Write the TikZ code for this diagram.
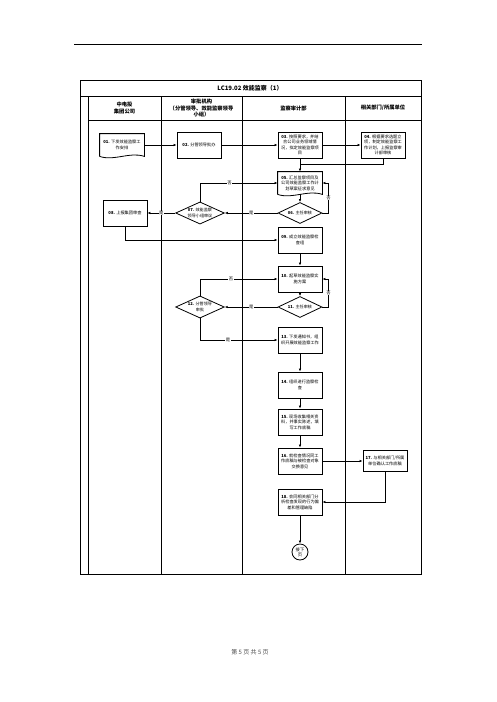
\documentclass[tikz,border=0pt]{standalone}
\usepackage{fontspec}
\setmainfont{Noto Sans CJK SC}
\XeTeXlinebreaklocale "zh"
\XeTeXlinebreakskip = 0pt plus 0.2pt
\usetikzlibrary{shapes.geometric,arrows.meta}

\begin{document}
\begin{tikzpicture}[x=1pt,y=-1pt,
  lane/.style={line width=0.8pt},
  stepbox/.style={draw,line width=0.8pt,minimum width=44,minimum height=26,text width=39,
    inner sep=1pt,align=flush center,font=\fontsize{4.2}{5.5}\selectfont},
  docbox/.style={stepbox,draw=none,minimum height=22},
  check/.style={diamond,draw,line width=0.8pt,aspect=2.2,text width=27,inner sep=0.3pt,
    minimum width=44,minimum height=21,align=flush center,font=\fontsize{4.1}{5.2}\selectfont},
  flow/.style={line width=0.8pt,-{Latex[length=3pt,width=2.5pt]}},
  tag/.style={fill=white,inner sep=0.5pt,font=\fontsize{4.3}{5}\selectfont},
  head/.style={align=center,font=\bfseries\fontsize{5.3}{6.3}\selectfont}]
  \useasboundingbox (0,0) rectangle (496,702);
  % Page rule
  \draw[line width=1pt] (74,44) -- (422,44);
  % Table and swim lanes
  \draw[lane] (80,80) rectangle (421,574);
  \draw[lane] (80,96) -- (421,96);
  \draw[lane] (88,120) -- (421,120);
  \foreach \x in {88,161,242,345} {
    \draw[lane] (\x,96) -- (\x,574);
  }
  \node[font=\bfseries\fontsize{6}{7}\selectfont] (title) at (250,88) {LC19.02 效能监察（1）};
  \foreach \x/\lab [count=\i] in {124.5/{中电投\\集团公司},
      201.5/{审批机构\\（分管领导、效能监察领导\\小组）},
      293.5/{监察审计部}, 383/{相关部门/所属单位}} {
    \node[head] (col\i) at (\x,108) {\lab};
  }
  % Steps
  \node[docbox] (n01) at (122,145) {\textbf{01.} 下发效能监察工作安排};
  \node[stepbox] (n02) at (199,145) {\textbf{02.} 分管领导批办};
  \node[stepbox] (n03) at (300,145) {\textbf{03.} 按照要求，并结合公司业务领域情况，拟定效能监察项目};
  \node[stepbox] (n04) at (383,145) {\textbf{04.} 根据要求选题立项，制定效能监察工作计划，上报监察审计部审核};
  \node[docbox] (n05) at (300,183) {\textbf{05.} 汇总监察项目及公司效能监察工作计划草案征求意见};
  \node[check] (d06) at (300,213) {\textbf{06.} 主任审核};
  \node[check] (d07) at (200,213) {\textbf{07.} 效能监察领导小组审议};
  \node[stepbox] (n08) at (125,213) {\textbf{08.} 上报集团审查};
  \node[stepbox] (n09) at (300,240) {\textbf{09.} 成立效能监察检查组};
  \node[stepbox] (n10) at (300,279) {\textbf{10.} 起草效能监察实施方案};
  \node[check] (d11) at (300,307) {\textbf{11.} 主任审核};
  \node[check] (d12) at (200,307) {\textbf{12.} 分管领导审批};
  \node[stepbox] (n13) at (300,340) {\textbf{13.} 下发通知书，组织开展效能监察工作};
  \node[stepbox] (n14) at (300,385) {\textbf{14.} 组织进行监察检查};
  \node[stepbox] (n15) at (300,422) {\textbf{15.} 现场收集相关资料，并事实陈述，填写工作底稿};
  \node[stepbox] (n16) at (300,461) {\textbf{16.} 就检查情况同工作底稿与被检查对象交换意见};
  \node[stepbox,minimum height=21] (n17) at (385,461) {\textbf{17.} 与相关部门/所属单位确认工作底稿};
  \node[stepbox] (n18) at (300,502) {\textbf{18.} 会同相关部门分析检查发现的行为偏差和管理缺陷};
  \node[draw,circle,line width=0.8pt,minimum size=16,inner sep=0pt,text width=9,align=center,
    font=\fontsize{4.3}{5}\selectfont] (c19) at (300,552) {接下\\页};
  % Document outlines
  \foreach \n in {n01,n05} {
    \draw[lane] (\n.south west) -- (\n.north west) -- (\n.north east) -- (\n.south east)
      .. controls ([xshift=-15pt,yshift=5pt]\n.south east) and ([xshift=15pt,yshift=-5pt]\n.south west) .. (\n.south west);
  }
  % Connectors
  \coordinate (j05) at (300,164);
  \draw[flow] (n01) -- (n02);
  \draw[flow] (n02) -- (n03);
  \draw[flow] (n03) -- (n04);
  \draw[flow] (n03) -- (n05);
  \draw[lane] (n04) |- (j05);
  \draw[flow] (n05.south) -- (d06);
  \draw[flow] (d06.east) -- ++(6,0) |- node[tag,pos=0.25] {否} (n05.east);
  \draw[flow] (d06) -- node[tag] {是} (d07);
  \draw[flow] (d07.north) |- node[tag,pos=0.69] {否} (n05.west);
  \draw[flow] (d07) -- node[tag] {是} (n08);
  \draw[flow] (n08) |- (n09);
  \draw[flow] (n09) -- (n10);
  \draw[flow] (n10) -- (d11);
  \draw[flow] (d11.east) -- ++(6,0) |- node[tag,pos=0.25] {否} (n10.east);
  \draw[flow] (d11) -- node[tag] {是} (d12);
  \draw[flow] (d12.north) |- node[tag,pos=0.7] {否} (n10.west);
  \draw[flow] (d12.south) |- node[tag,pos=0.68] {是} (n13.west);
  \draw[flow] (n13) -- (n14);
  \draw[flow] (n14) -- (n15);
  \draw[flow] (n15) -- (n16);
  \draw[flow] (n16) -- (n17);
  \draw[flow] (n17) |- (n18);
  \draw[flow] (n18) -- (c19);
  % Footer
  \node[font=\fontsize{6}{7}\selectfont,text=black!70] (page) at (250,652) {第 5 页 共 5 页};
\end{tikzpicture}
\end{document}
